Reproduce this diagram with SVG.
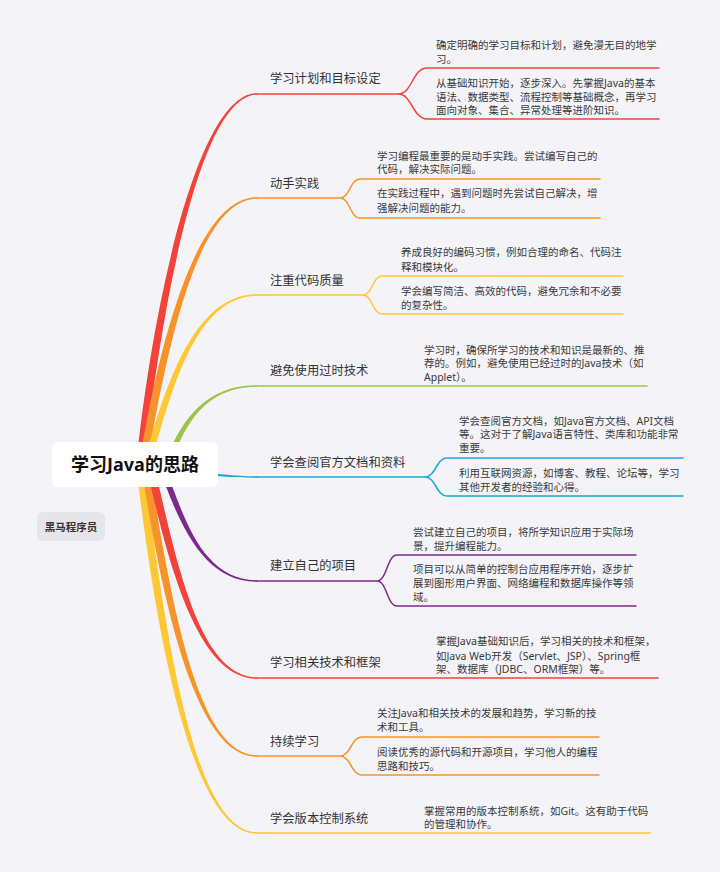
<svg xmlns="http://www.w3.org/2000/svg" width="720" height="872" viewBox="0 0 720 872">
<style>
text{font-family:"Noto Sans","Noto Sans CJK SC",sans-serif;}
.tt{font-size:12.3px;fill:#333;}
.ct{font-size:10.5px;fill:#3a3a3a;}
.ln{fill:none;stroke-width:1.5;stroke-linecap:round;}
.red{fill:#f2433a;}.redS{stroke:#f2433a;}
.org{fill:#f7932a;}.orgS{stroke:#f7932a;}
.yel{fill:#fdc735;}.yelS{stroke:#fdc735;}
.grn{fill:#9cc44a;}.grnS{stroke:#9cc44a;}
.blu{fill:#18a8d6;}.bluS{stroke:#18a8d6;}
.pur{fill:#7d2a8d;}.purS{stroke:#7d2a8d;}
</style>
<rect x="0" y="0" width="720" height="872" fill="#f4f4f8"/>
<g id="connectors">
<path class="red" d="M136,465 C153.5,298 199,92.8 257,93.3 L257,94.7 C201,95.2 162.5,298 144,465 Z"/>
<path class="org" d="M139,465 C158.5,345 196,196.8 257,197.3 L257,198.7 C198,199.2 167.5,345 147,465 Z"/>
<path class="yel" d="M143.5,465 C164,388 194,293.8 257,294.3 L257,295.7 C196,296.2 172,388 150.5,465 Z"/>
<path class="grn" d="M162,470 C176.5,430 199.5,384.8 257,385.3 L257,386.7 C200.5,387.2 183.5,430 168,470 Z"/>
<path class="blu" d="M150,466.2 C190,468.2 215,476 257,476.3 L257,477.7 C215,478 190,471.8 150,469.8 Z"/>
<path class="pur" d="M156.8,462 C176.5,515 199.5,582.2 257,581.7 L257,580.3 C200.5,579.8 183.5,515 163.2,462 Z"/>
<path class="yel" d="M136,465 C155.5,630 191,834.2 257,833.7 L257,832.3 C193,831.8 164.5,630 144,465 Z"/>
<path class="org" d="M141,465 C161.5,596 194,757.2 257,756.7 L257,755.3 C196,754.8 170.5,596 149,465 Z"/>
<path class="red" d="M146,465 C167.5,561 197,679.2 257,678.7 L257,677.3 C199,676.8 176.5,561 154,465 Z"/>
<path class="ln redS" d="M256,94 L398,94 M398,94 C412.5,94 412.5,68 427,68 L659,68 M398,94 C412.5,94 412.5,119 427,119 L659,119"/>
<path class="ln orgS" d="M256,198 L340,198 M340,198 C350,198 350,179 360,179 L600,179 M340,198 C350,198 350,218 360,218 L600,218"/>
<path class="ln yelS" d="M256,295 L363,295 M363,295 C372.5,295 372.5,276 382,276 L623,276 M363,295 C372.5,295 372.5,314 382,314 L623,314"/>
<path class="ln grnS" d="M256,386 L647,386"/>
<path class="ln bluS" d="M256,477 L425,477 M425,477 C436,477 436,458 447,458 L683,458 M425,477 C436,477 436,496 447,496 L683,496"/>
<path class="ln purS" d="M256,581 L377,581 M377,581 C387,581 387,555 397,555 L636,555 M377,581 C387,581 387,606 397,606 L636,606"/>
<path class="ln redS" d="M256,678 L658,678"/>
<path class="ln orgS" d="M256,756 L340,756 M340,756 C351,756 351,737 362,737 L599,737 M340,756 C351,756 351,775 362,775 L599,775"/>
<path class="ln yelS" d="M256,833 L650,833"/>
</g>
<g id="root">
<rect x="52" y="442" width="166" height="45" rx="6" fill="#ffffff"/>
<text x="135" y="471" text-anchor="middle" font-size="18" font-weight="bold" fill="#111">学习Java的思路</text>
</g>
<g id="label">
<rect x="37" y="512" width="68" height="29" rx="6" fill="#e6e6ea"/>
<text x="71" y="530.5" text-anchor="middle" font-size="10.5" font-weight="bold" fill="#333">黑马程序员</text>
</g>
<g id="b1"><text class="tt" x="270" y="82.5">学习计划和目标设定</text></g>
<g id="b1c1"><text class="ct" x="436" y="49">确定明确的学习目标和计划，避免漫无目的地学</text><text class="ct" x="436" y="63">习。</text></g>
<g id="b1c2"><text class="ct" x="436" y="87">从基础知识开始，逐步深入。先掌握Java的基本</text><text class="ct" x="436" y="101">语法、数据类型、流程控制等基础概念，再学习</text><text class="ct" x="436" y="114">面向对象、集合、异常处理等进阶知识。</text></g>
<g id="b2"><text class="tt" x="270" y="187.5">动手实践</text></g>
<g id="b2c1"><text class="ct" x="377" y="160">学习编程最重要的是动手实践。尝试编写自己的</text><text class="ct" x="377" y="173">代码，解决实际问题。</text></g>
<g id="b2c2"><text class="ct" x="377" y="197">在实践过程中，遇到问题时先尝试自己解决，增</text><text class="ct" x="377" y="212">强解决问题的能力。</text></g>
<g id="b3"><text class="tt" x="270" y="284.5">注重代码质量</text></g>
<g id="b3c1"><text class="ct" x="401" y="256">养成良好的编码习惯，例如合理的命名、代码注</text><text class="ct" x="401" y="271">释和模块化。</text></g>
<g id="b3c2"><text class="ct" x="401" y="295">学会编写简洁、高效的代码，避免冗余和不必要</text><text class="ct" x="401" y="309">的复杂性。</text></g>
<g id="b4"><text class="tt" x="270" y="374.5">避免使用过时技术</text></g>
<g id="b4c1"><text class="ct" x="424" y="354">学习时，确保所学习的技术和知识是最新的、推</text><text class="ct" x="424" y="367">荐的。例如，避免使用已经过时的Java技术（如</text><text class="ct" x="424" y="381">Applet）。</text></g>
<g id="b5"><text class="tt" x="270" y="466.5">学会查阅官方文档和资料</text></g>
<g id="b5c1"><text class="ct" x="459" y="425">学会查阅官方文档，如Java官方文档、API文档</text><text class="ct" x="459" y="438">等。这对于了解Java语言特性、类库和功能非常</text><text class="ct" x="459" y="452">重要。</text></g>
<g id="b5c2"><text class="ct" x="459" y="477">利用互联网资源，如博客、教程、论坛等，学习</text><text class="ct" x="459" y="491">其他开发者的经验和心得。</text></g>
<g id="b6"><text class="tt" x="270" y="569.5">建立自己的项目</text></g>
<g id="b6c1"><text class="ct" x="413" y="536">尝试建立自己的项目，将所学知识应用于实际场</text><text class="ct" x="413" y="550">景，提升编程能力。</text></g>
<g id="b6c2"><text class="ct" x="413" y="573">项目可以从简单的控制台应用程序开始，逐步扩</text><text class="ct" x="413" y="587">展到图形用户界面、网络编程和数据库操作等领</text><text class="ct" x="413" y="601">域。</text></g>
<g id="b7"><text class="tt" x="270" y="666.5">学习相关技术和框架</text></g>
<g id="b7c1"><text class="ct" x="436" y="645">掌握Java基础知识后，学习相关的技术和框架，</text><text class="ct" x="436" y="660">如Java Web开发（Servlet、JSP）、Spring框</text><text class="ct" x="436" y="673">架、数据库（JDBC、ORM框架）等。</text></g>
<g id="b8"><text class="tt" x="270" y="745.5">持续学习</text></g>
<g id="b8c1"><text class="ct" x="377" y="717">关注Java和相关技术的发展和趋势，学习新的技</text><text class="ct" x="377" y="731">术和工具。</text></g>
<g id="b8c2"><text class="ct" x="377" y="756">阅读优秀的源代码和开源项目，学习他人的编程</text><text class="ct" x="377" y="770">思路和技巧。</text></g>
<g id="b9"><text class="tt" x="270" y="822.5">学会版本控制系统</text></g>
<g id="b9c1"><text class="ct" x="424" y="815">掌握常用的版本控制系统，如Git。这有助于代码</text><text class="ct" x="424" y="828">的管理和协作。</text></g>
</svg>
